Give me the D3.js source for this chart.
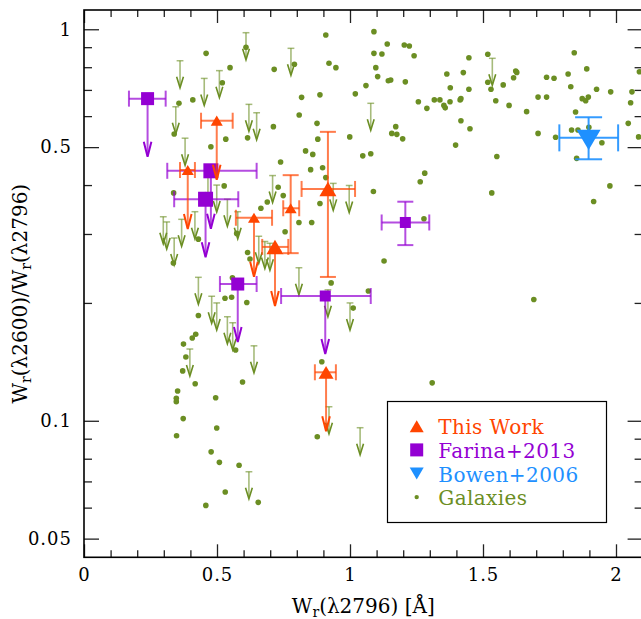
<!DOCTYPE html>
<html>
<head>
<meta charset="utf-8">
<script src="https://cdn.jsdelivr.net/npm/d3@7"></script>
<style>
  body { margin: 0; background: #fff; }
  text { font-family: "DejaVu Serif", serif; }
</style>
</head>
<body>
<svg id="chart" width="641" height="619"></svg>
<script>
// ---- values ----
// galaxies: [W(2796), ratio]
const galaxies = [
  [0.459,0.868],[0.357,0.647],[0.409,0.660],[0.339,0.540],[0.477,0.501],[0.337,0.382],[0.520,0.730],
  [0.609,0.900],[0.791,0.814],[0.909,0.967],[1.090,0.986],[1.140,0.917],[1.204,0.912],[1.223,0.906],
  [1.241,0.856],[1.090,0.868],[1.120,0.865],[0.921,0.819],[0.947,0.798],[0.549,0.798],[0.715,0.790],
  [1.097,0.798],[1.104,0.757],[1.144,0.739],[1.153,0.742],[1.208,0.734],[1.060,0.718],[1.020,0.684],
  [0.887,0.680],[0.818,0.670],[1.257,0.653],[0.809,0.604],[0.876,0.575],[0.712,0.564],[0.615,0.528],
  [0.533,0.524],[0.879,0.524],[0.999,0.531],[1.172,0.564],[1.157,0.542],[1.176,0.539],[1.198,0.525],
  [0.833,0.489],[0.860,0.479],[1.048,0.475],[1.078,0.481],[0.739,0.458],[0.852,0.438],[0.897,0.443],
  [0.909,0.418],[0.527,0.398],[0.730,0.395],[0.749,0.376],[0.689,0.362],[0.665,0.349],[1.088,0.385],
  [0.887,0.359],[1.264,0.408],[0.574,0.301],[0.615,0.269],[0.624,0.259],[0.336,0.253],[0.430,0.291],
  [0.808,0.321],[0.856,0.321],[0.756,0.304],[0.929,0.225],[1.069,0.2145],[1.128,0.256],[1.012,0.194],
  [0.558,0.232],[0.530,0.2055],[0.555,0.2067],[0.612,0.2005],[0.570,0.1516],[0.596,0.1256],[0.495,0.1145],
  [0.894,0.1415],[0.430,0.1857],[0.420,0.1663],[0.407,0.1627],[0.374,0.157],[0.383,0.1455],[0.371,0.1341],
  [0.418,0.1243],[0.352,0.1191],[0.347,0.1141],[0.347,0.1119],[0.373,0.1013],[0.499,0.0958],[0.348,0.0916],
  [0.478,0.0833],[0.509,0.0783],[0.583,0.0770],[0.531,0.0658],[0.458,0.0608],[0.655,0.0619],[0.877,0.0910],
  [1.518,0.863],[1.843,0.871],[1.447,0.846],[1.364,0.769],[1.426,0.775],[1.623,0.782],[1.627,0.776],
  [1.615,0.752],[1.820,0.769],[1.890,0.792],[2.088,0.779],[1.518,0.732],[1.739,0.754],[1.767,0.750],
  [1.576,0.721],[1.530,0.703],[1.377,0.709],[1.447,0.703],[1.830,0.713],[1.927,0.703],[1.980,0.692],
  [2.060,0.692],[1.317,0.660],[1.338,0.660],[1.289,0.628],[1.353,0.639],[1.358,0.630],[1.376,0.653],
  [1.414,0.660],[1.417,0.665],[1.548,0.657],[1.598,0.639],[1.664,0.616],[1.707,0.671],[1.739,0.671],
  [1.873,0.665],[1.886,0.657],[1.896,0.671],[1.848,0.615],[2.055,0.649],[1.417,0.584],[1.451,0.557],
  [2.046,0.575],[1.707,0.542],[1.773,0.530],[1.833,0.553],[1.857,0.553],[1.898,0.562],[1.947,0.513],
  [2.085,0.531],[1.852,0.468],[1.397,0.506],[1.552,0.473],[1.281,0.429],[1.533,0.382],[1.977,0.398],
  [1.916,0.363],[1.278,0.328],[1.691,0.204],[1.309,0.125]
];
// galaxies with upper limits on the ratio
const galaxyLimits = [
  [0.361,0.831],[0.452,0.749],[0.509,0.784],[0.345,0.634],[0.380,0.527],[0.609,0.980],[0.778,0.894],
  [0.620,0.643],[0.649,0.612],[1.078,0.647],[1.535,0.843],[0.709,0.423],[0.937,0.404],[0.997,0.399],
  [0.499,0.400],[0.539,0.368],[0.578,0.342],[0.466,0.422],[0.417,0.342],[0.298,0.332],[0.311,0.322],
  [0.339,0.293],[0.367,0.327],[0.657,0.296],[0.680,0.287],[0.699,0.284],[0.808,0.246],[0.917,0.216],
  [1.000,0.200],[0.430,0.2325],[0.480,0.208],[0.499,0.200],[0.539,0.1844],[0.559,0.178],[0.639,0.1554],
  [0.398,0.1525],[0.620,0.0741],[0.921,0.1086],[1.038,0.0960]
];

// This Work
const workX     = [0.499, 0.390, 0.639, 0.777, 0.718, 0.917, 0.910];
const workY     = [0.584, 0.437, 0.330, 0.349, 0.278, 0.391, 0.133];
const workXlo   = [0.440, 0.361, 0.571, 0.749, 0.670, 0.818, 0.868];
const workXhi   = [0.559, 0.417, 0.707, 0.809, 0.768, 1.019, 0.947];
const workYlo   = [null,  null,  null,  0.268, null,  0.233, null];
const workYhi   = [null,  null,  null,  0.424, null,  0.547, null];

// Farina+2013
const farinaX   = [0.239, 0.477, 0.457, 0.578, 0.907, 1.208];
const farinaY   = [0.665, 0.435, 0.368, 0.2235, 0.2083, 0.321];
const farinaXlo = [0.169, 0.313, 0.339, 0.511, 0.741, 1.119];
const farinaXhi = [0.307, 0.649, 0.580, 0.649, 1.078, 1.298];
const farinaYlo = [null,  null,  null,  null,  null,  0.281];
const farinaYhi = [null,  null,  null,  null,  null,  0.3627];

// Bowen+2006
const bowenX   = [1.897];
const bowenY   = [0.528];
const bowenXlo = [1.787];
const bowenXhi = [2.008];
const bowenYlo = [0.4655];
const bowenYhi = [0.596];

const xMajor = [0, 0.5, 1, 1.5, 2];
const yMajor = [0.05, 0.1, 0.5, 1];
const yMinor = [0.06, 0.07, 0.08, 0.09, 0.2, 0.3, 0.4, 0.6, 0.7, 0.8, 0.9];

const legendItems = ["This Work", "Farina+2013", "Bowen+2006", "Galaxies"];

// ---- styles ----
const cWork = "#ff4500", cFarina = "#9400d3", cBowen = "#1e90ff", cGal = "#6b8e23";
const workSize = [12, 12, 12, 12, 17, 17, 15];
const farinaSize = [13, 15, 15, 13, 11, 11];

const svg = d3.select("#chart");
const x = d3.scaleLinear().domain([0, 2.1]).range([84, 642.6]);
const y = d3.scaleLog().domain([0.0448, 1.12]).range([557.3, 10]);
const x0 = x.range()[0], x1 = x.range()[1];
const y0 = y.range()[0], y1 = y.range()[1];

const g = svg.append("g");

// ---- axes (ticks inward) ----
const xMinor = d3.range(1, 21).map(d => d / 10).filter(d => !xMajor.includes(d));

function styleAxis(sel) {
  sel.select(".domain").remove();
  sel.selectAll("line").attr("stroke", "#222").attr("stroke-width", 1.3);
  sel.selectAll("text").attr("fill", "#000").style("font-size", "18px")
    .style("font-family", "'DejaVu Serif', serif").style("letter-spacing", "1px");
}

g.append("g").attr("transform", `translate(0,${y0})`)
  .call(d3.axisBottom(x).tickValues(xMajor).tickSize(-13).tickPadding(11).tickFormat(d3.format("~g")))
  .call(styleAxis);
g.append("g").attr("transform", `translate(0,${y0})`)
  .call(d3.axisBottom(x).tickValues(xMinor).tickSize(-7).tickFormat(""))
  .call(styleAxis);
g.append("g").attr("transform", `translate(0,${y1})`)
  .call(d3.axisTop(x).tickValues(xMajor).tickSize(-13).tickFormat(""))
  .call(styleAxis);
g.append("g").attr("transform", `translate(0,${y1})`)
  .call(d3.axisTop(x).tickValues(xMinor).tickSize(-7).tickFormat(""))
  .call(styleAxis);

g.append("g").attr("transform", `translate(${x0},0)`)
  .call(d3.axisLeft(y).tickValues(yMajor).tickSize(-15).tickPadding(12).tickFormat(d3.format("~g")))
  .call(styleAxis);
g.append("g").attr("transform", `translate(${x0},0)`)
  .call(d3.axisLeft(y).tickValues(yMinor).tickSize(-8).tickFormat(""))
  .call(styleAxis);
g.append("g").attr("transform", `translate(${x1},0)`)
  .call(d3.axisRight(y).tickValues(yMajor).tickSize(-15).tickFormat(""))
  .call(styleAxis);
g.append("g").attr("transform", `translate(${x1},0)`)
  .call(d3.axisRight(y).tickValues(yMinor).tickSize(-8).tickFormat(""))
  .call(styleAxis);

g.append("rect")
  .attr("x", x0).attr("y", y1).attr("width", x1 - x0).attr("height", y0 - y1)
  .attr("fill", "none").attr("stroke", "#000").attr("stroke-width", 1.6);

// axis titles
const xt = g.append("text")
  .attr("x", (x0 + x1) / 2).attr("y", 613)
  .attr("text-anchor", "middle").style("font-size", "20px");
xt.append("tspan").text("W");
xt.append("tspan").attr("baseline-shift", "-25%").style("font-size", "14px").text("r");
xt.append("tspan").text("(λ2796) [Å]");

const yt = g.append("text")
  .attr("transform", `translate(27,${(y0 + y1) / 2 + 10}) rotate(-90)`)
  .attr("text-anchor", "middle").style("font-size", "20px");
yt.append("tspan").text("W");
yt.append("tspan").attr("baseline-shift", "-25%").style("font-size", "14px").text("r");
yt.append("tspan").text("(λ2600)/W");
yt.append("tspan").attr("baseline-shift", "-25%").style("font-size", "14px").text("r");
yt.append("tspan").text("(λ2796)");

// ---- helpers ----
function downArrow(sel, px, py, len, hw, hl, color, width, stemOpacity) {
  sel.append("line")
    .attr("x1", px).attr("x2", px).attr("y1", py).attr("y2", py + len - 1)
    .attr("stroke", color).attr("stroke-width", width).attr("stroke-opacity", stemOpacity);
  sel.append("path")
    .attr("d", `M${px - hw},${py + len - hl} L${px},${py + len} L${px + hw},${py + len - hl}`)
    .attr("fill", "none").attr("stroke", color).attr("stroke-width", width);
}

function errBars(sel, px, py, xlo, xhi, ylo, yhi, color, cap, opacity) {
  const b = sel.append("g").attr("stroke", color).attr("stroke-width", 2)
    .attr("stroke-opacity", opacity).attr("fill", "none");
  b.append("line").attr("x1", x(xlo)).attr("x2", x(xhi)).attr("y1", py).attr("y2", py);
  b.append("line").attr("x1", x(xlo)).attr("x2", x(xlo)).attr("y1", py - cap / 2).attr("y2", py + cap / 2);
  b.append("line").attr("x1", x(xhi)).attr("x2", x(xhi)).attr("y1", py - cap / 2).attr("y2", py + cap / 2);
  if (ylo != null) {
    b.append("line").attr("x1", px).attr("x2", px).attr("y1", y(yhi)).attr("y2", y(ylo));
    b.append("line").attr("x1", px - cap / 2).attr("x2", px + cap / 2).attr("y1", y(yhi)).attr("y2", y(yhi));
    b.append("line").attr("x1", px - cap / 2).attr("x2", px + cap / 2).attr("y1", y(ylo)).attr("y2", y(ylo));
  }
}

function triPath(px, py, w, down) {
  const h = w * 0.85, s = down ? -1 : 1;
  return `M${px - w / 2},${py + s * h / 2} L${px},${py - s * h / 2} L${px + w / 2},${py + s * h / 2} Z`;
}

// ---- galaxies ----
const gal = g.append("g");
galaxyLimits.forEach(([vx, vy]) => {
  const px = x(vx), py = y(vy);
  const a = gal.append("g");
  a.append("line").attr("x1", px - 3.4).attr("x2", px + 3.4).attr("y1", py).attr("y2", py)
    .attr("stroke", cGal).attr("stroke-width", 1.5).attr("stroke-opacity", 0.6);
  downArrow(a, px, py, 27, 3.4, 11, cGal, 1.6, 0.6);
});
gal.selectAll("circle").data(galaxies).join("circle")
  .attr("cx", d => x(d[0])).attr("cy", d => y(d[1])).attr("r", 2.8).attr("fill", cGal);

// ---- Farina+2013 ----
const fg = g.append("g");
farinaX.forEach((vx, i) => {
  const px = x(vx), py = y(farinaY[i]);
  errBars(fg, px, py, farinaXlo[i], farinaXhi[i], farinaYlo[i], farinaYhi[i], cFarina, 16, 0.7);
  if (farinaYlo[i] == null) downArrow(fg, px, py, 58, 3.8, 15, cFarina, 2, 0.7);
  const s = farinaSize[i];
  fg.append("rect").attr("x", px - s / 2).attr("y", py - s / 2).attr("width", s).attr("height", s)
    .attr("fill", cFarina);
});

// ---- This Work ----
const wg = g.append("g");
workX.forEach((vx, i) => {
  const px = x(vx), py = y(workY[i]);
  errBars(wg, px, py, workXlo[i], workXhi[i], workYlo[i], workYhi[i], cWork, 16, 0.7);
  if (workYlo[i] == null) downArrow(wg, px, py, 59, 3.8, 15, cWork, 2, 0.7);
  wg.append("path").attr("d", triPath(px, py, workSize[i], false)).attr("fill", cWork);
});

// ---- Bowen+2006 ----
const bg = g.append("g");
bowenX.forEach((vx, i) => {
  const px = x(vx), py = y(bowenY[i]);
  errBars(bg, px, py, bowenXlo[i], bowenXhi[i], bowenYlo[i], bowenYhi[i], cBowen, 27, 0.9);
  bg.append("path").attr("d", triPath(px, py + 2, 24, true)).attr("fill", cBowen);
});

// ---- legend ----
const lg = g.append("g");
lg.append("rect").attr("x", 387.5).attr("y", 401.5).attr("width", 219).attr("height", 121)
  .attr("fill", "#fff").attr("stroke", "#000").attr("stroke-width", 1.2);
const legColors = [cWork, cFarina, cBowen, cGal];
legendItems.forEach((name, i) => {
  const by = 434.3 + i * 23.6, my = by - 8, mx = 416.7;
  if (i === 0) lg.append("path").attr("d", triPath(mx, my, 14, false)).attr("fill", cWork);
  if (i === 1) lg.append("rect").attr("x", mx - 6.5).attr("y", my - 6.5).attr("width", 13).attr("height", 13).attr("fill", cFarina);
  if (i === 2) lg.append("path").attr("d", triPath(mx, my, 14, true)).attr("fill", cBowen);
  if (i === 3) lg.append("circle").attr("cx", mx).attr("cy", my).attr("r", 2.2).attr("fill", cGal);
  lg.append("text").attr("x", 438.3).attr("y", by).attr("fill", legColors[i])
    .style("font-size", "20px").style("letter-spacing", "0.4px").text(name);
});
</script>
</body>
</html>
